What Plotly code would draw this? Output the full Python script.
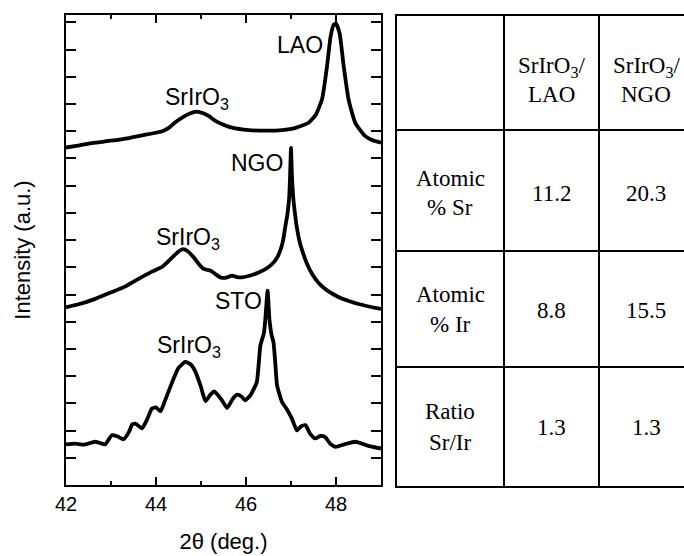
import plotly.graph_objects as go

# ---------------- data ----------------
lao_x = [42.0, 42.3, 42.65, 43.0, 43.4, 43.8, 44.14, 44.3, 44.43, 44.6, 44.75, 44.9, 45.05, 45.18,
         45.32, 45.5, 45.69, 46.06, 46.4, 46.8, 47.1, 47.39, 47.55, 47.69, 47.8, 47.88, 47.95, 48.0,
         48.08, 48.17, 48.28, 48.43, 48.65, 48.8, 49.0]
lao_y = [12.40, 12.48, 12.58, 12.65, 12.75, 12.88, 13.0, 13.14, 13.33, 13.52, 13.65, 13.72, 13.66, 13.55,
         13.38, 13.24, 13.13, 13.04, 13.02, 13.04, 13.12, 13.31, 13.6, 14.18, 15.38, 16.48, 16.92, 16.95,
         16.6, 15.4, 14.16, 13.3, 12.82, 12.68, 12.58]

ngo_x = [42.0, 42.3, 42.65, 43.0, 43.3, 43.54, 43.75, 43.91, 44.14, 44.25, 44.36, 44.5, 44.6, 44.7,
         44.84, 44.95, 45.06, 45.21, 45.32, 45.43, 45.54, 45.69, 45.8, 45.91, 46.1, 46.28, 46.45, 46.58,
         46.7, 46.76, 46.82, 46.87, 46.92, 46.96, 46.98, 47.0, 47.02, 47.05, 47.09, 47.13, 47.19, 47.25,
         47.35, 47.47, 47.6, 47.76, 47.95, 48.14, 48.3, 48.5, 48.75, 49.0]
ngo_y = [6.53, 6.65, 6.84, 7.08, 7.28, 7.51, 7.70, 7.84, 8.02, 8.18, 8.36, 8.58, 8.67, 8.6,
         8.36, 8.12, 7.94, 7.88, 7.75, 7.63, 7.61, 7.69, 7.64, 7.63, 7.70, 7.81, 7.95, 8.12,
         8.38, 8.61, 8.95, 9.46, 9.95, 10.56, 11.4, 12.39, 11.4, 10.56, 9.95, 9.46, 8.95, 8.61,
         8.15, 7.75, 7.45, 7.2, 7.0, 6.84, 6.75, 6.65, 6.55, 6.47]

sto_x = [42.0, 42.2, 42.4, 42.65, 42.8, 42.87, 43.02, 43.15, 43.28, 43.4, 43.47, 43.55, 43.69, 43.8,
         43.91, 44.0, 44.1, 44.2, 44.36, 44.5, 44.65, 44.78, 44.88, 45.0, 45.1, 45.2, 45.29, 45.38,
         45.47, 45.58, 45.7, 45.8, 45.9, 45.98, 46.1, 46.24, 46.28, 46.32, 46.4, 46.43, 46.48, 46.52,
         46.57, 46.61, 46.65, 46.69, 46.8, 46.9, 47.02, 47.13, 47.22, 47.32, 47.42, 47.54, 47.65, 47.76,
         47.88, 47.99, 48.2, 48.43, 48.7, 49.0]
sto_y = [1.49, 1.52, 1.48, 1.59, 1.52, 1.49, 1.83, 1.78, 1.68, 1.95, 2.22, 2.25, 2.08, 2.4,
         2.81, 2.85, 2.71, 3.1, 3.78, 4.3, 4.52, 4.42, 4.15, 3.6, 3.08, 3.3, 3.44, 3.3,
         3.1, 2.83, 3.15, 3.32, 3.25, 3.11, 3.3, 3.78, 4.4, 5.13, 5.6, 6.1, 7.14, 6.1,
         5.5, 5.25, 4.5, 3.66, 3.05, 2.8, 2.44, 2.01, 2.15, 2.2, 1.9, 1.71, 1.8, 1.76,
         1.5, 1.4, 1.5, 1.59, 1.45, 1.34]

x_tick_vals = [42, 44, 46, 48]
x_tick_text = ["42", "44", "46", "48"]

peak_labels = ["LAO", "SrIrO<sub>3</sub>", "NGO", "SrIrO<sub>3</sub>", "STO", "SrIrO<sub>3</sub>"]

col_headers = [["SrIrO<sub>3</sub>/", "LAO"], ["SrIrO<sub>3</sub>/", "NGO"]]
row_labels = [["Atomic", "% Sr"], ["Atomic", "% Ir"], ["Ratio", "Sr/Ir"]]
cell_values = [["11.2", "20.3"], ["8.8", "15.5"], ["1.3", "1.3"]]

# ---------------- layout helpers ----------------
W, H = 684, 556
def px(p):
    return p / W
def py(p):
    return 1 - p / H

fig = go.Figure()
for xs, ys in [(lao_x, lao_y), (ngo_x, ngo_y), (sto_x, sto_y)]:
    fig.add_trace(go.Scatter(x=xs, y=ys, mode="lines",
                             line=dict(color="black", width=3.8, shape="spline", smoothing=0.5),
                             showlegend=False, hoverinfo="skip"))

sans = "Liberation Sans, Arial, sans-serif"
serif = "Liberation Serif, Times New Roman, serif"

# peak labels (pixel positions of label centres)
label_pos = [(300, 45), (197, 98), (257, 163), (188, 238), (238, 301), (189, 346)]
annotations = []
for txt, (lx, ly) in zip(peak_labels, label_pos):
    annotations.append(dict(text=txt, x=px(lx), y=py(ly), xref="paper", yref="paper",
                            showarrow=False, xanchor="center", yanchor="middle",
                            font=dict(family=sans, size=23, color="black")))

# table geometry
col_lines = [396, 504, 599]
row_lines = [15, 130, 251, 367, 487]
col_centres = [450, 551, 646]
header_line_y = [67, 94]
row_line_y = [[178, 207], [294, 324], [412, 442]]
row_value_y = [193, 310, 427]

shapes = []
for yl in row_lines:
    shapes.append(dict(type="line", xref="paper", yref="paper", x0=px(col_lines[0]) - 0.0015, x1=1.02,
                       y0=py(yl), y1=py(yl), line=dict(color="black", width=2)))
for xl in col_lines:
    shapes.append(dict(type="line", xref="paper", yref="paper", x0=px(xl), x1=px(xl),
                       y0=py(row_lines[0]), y1=py(row_lines[-1]), line=dict(color="black", width=2)))

def cell_text(t, cx, cy):
    return dict(text=t, x=px(cx), y=py(cy), xref="paper", yref="paper", showarrow=False,
                xanchor="center", yanchor="middle", font=dict(family=serif, size=23, color="black"))

for j, hdr in enumerate(col_headers):
    for k, line in enumerate(hdr):
        annotations.append(cell_text(line, col_centres[j + 1], header_line_y[k]))
for i, lab in enumerate(row_labels):
    for k, line in enumerate(lab):
        annotations.append(cell_text(line, col_centres[0], row_line_y[i][k]))
    for j, v in enumerate(cell_values[i]):
        annotations.append(cell_text(v, col_centres[j + 1], row_value_y[i]))

fig.update_layout(
    width=W, height=H, margin=dict(l=0, r=0, t=0, b=0),
    paper_bgcolor="white", plot_bgcolor="white",
    xaxis=dict(domain=[px(66), px(381)], range=[42, 49], tickvals=x_tick_vals, ticktext=x_tick_text,
               automargin=False,
               ticks="inside", ticklen=8, tickwidth=1.5, tickcolor="black",
               minor=dict(dtick=1, tick0=42, ticks="inside", ticklen=4, tickwidth=1.5, tickcolor="black"),
               showline=True, linewidth=2, linecolor="black", mirror="ticks",
               showgrid=False, zeroline=False,
               tickfont=dict(family=sans, size=20, color="black"),
               title=dict(text="2θ (deg.)", font=dict(family=sans, size=22, color="black"), standoff=20)),
    yaxis=dict(domain=[py(485), py(15)], range=[0, 17.27], tick0=0, dtick=1,
               automargin=False,
               ticks="inside", ticklen=10, tickwidth=1.5, tickcolor="black",
               showticklabels=False, showline=True, linewidth=2, linecolor="black", mirror="ticks",
               showgrid=False, zeroline=False,
               title=dict(text="Intensity (a.u.)", font=dict(family=sans, size=22, color="black"), standoff=27)),
    annotations=annotations, shapes=shapes,
)

fig.write_html("out.html")
